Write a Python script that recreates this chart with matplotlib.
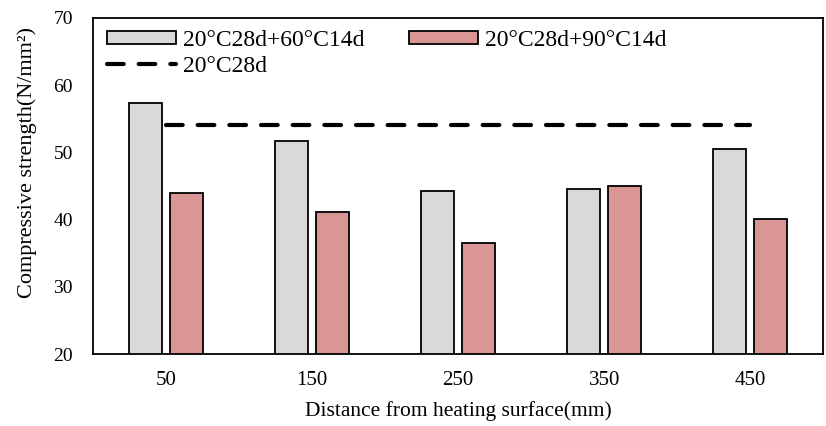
import matplotlib.pyplot as plt
import numpy as np

# data
distances = ['50', '150', '250', '350', '450']
strength_60 = [57.4, 51.7, 44.3, 44.6, 50.5]
strength_90 = [43.9, 41.1, 36.5, 45.0, 40.1]
strength_ref = [54.0, 54.0, 54.0, 54.0, 54.0]
labels = ['20°C28d+60°C14d', '20°C28d+90°C14d', '20°C28d']

plt.rcParams['font.family'] = ['Liberation Serif', 'DejaVu Serif']

fig = plt.figure(figsize=(8.26, 4.26), dpi=100)
ax = fig.add_axes([0.1126, 0.169, 0.884, 0.789])

x = np.arange(len(distances))
w = 0.226
b1 = ax.bar(x - 0.142, strength_60, w, bottom=0, color='#d9d9d9',
            edgecolor='black', linewidth=1.3, label=labels[0], zorder=2)
b2 = ax.bar(x + 0.142, strength_90, w, bottom=0, color='#d99694',
            edgecolor='black', linewidth=1.3, label=labels[1], zorder=2)
ln, = ax.plot(x, strength_ref, color='black', lw=3.0, ls=(0, (4.0, 3.6)),
              dash_capstyle='round', label=labels[2], zorder=3)

ax.set_xlim(-0.5, len(distances) - 0.5)
ax.set_ylim(20, 70)
ax.set_yticks([20, 30, 40, 50, 60, 70])
ax.set_xticks(x)
ax.set_xticklabels(distances)
ax.tick_params(axis='x', length=0, labelsize=15, pad=12)
ax.tick_params(axis='y', length=0, labelsize=14, pad=14.5)
for s in ax.spines.values():
    s.set_linewidth(1.3)

ax.set_xlabel('Distance from heating surface(mm)', fontsize=15.5, labelpad=8)
ax.set_ylabel('Compressive strength(N/mm²)', fontsize=16)
ax.yaxis.set_label_coords(-0.077, 0.571)

ax.legend([b1, ln, b2], [labels[0], labels[2], labels[1]], ncol=2,
          loc='upper left', bbox_to_anchor=(0.0, 1.006), frameon=False,
          fontsize=17, handlelength=2.9, handleheight=0.5,
          columnspacing=1.9, labelspacing=0.2, handletextpad=0.3,
          borderaxespad=0.2)

fig.savefig('out.png', dpi=100)
